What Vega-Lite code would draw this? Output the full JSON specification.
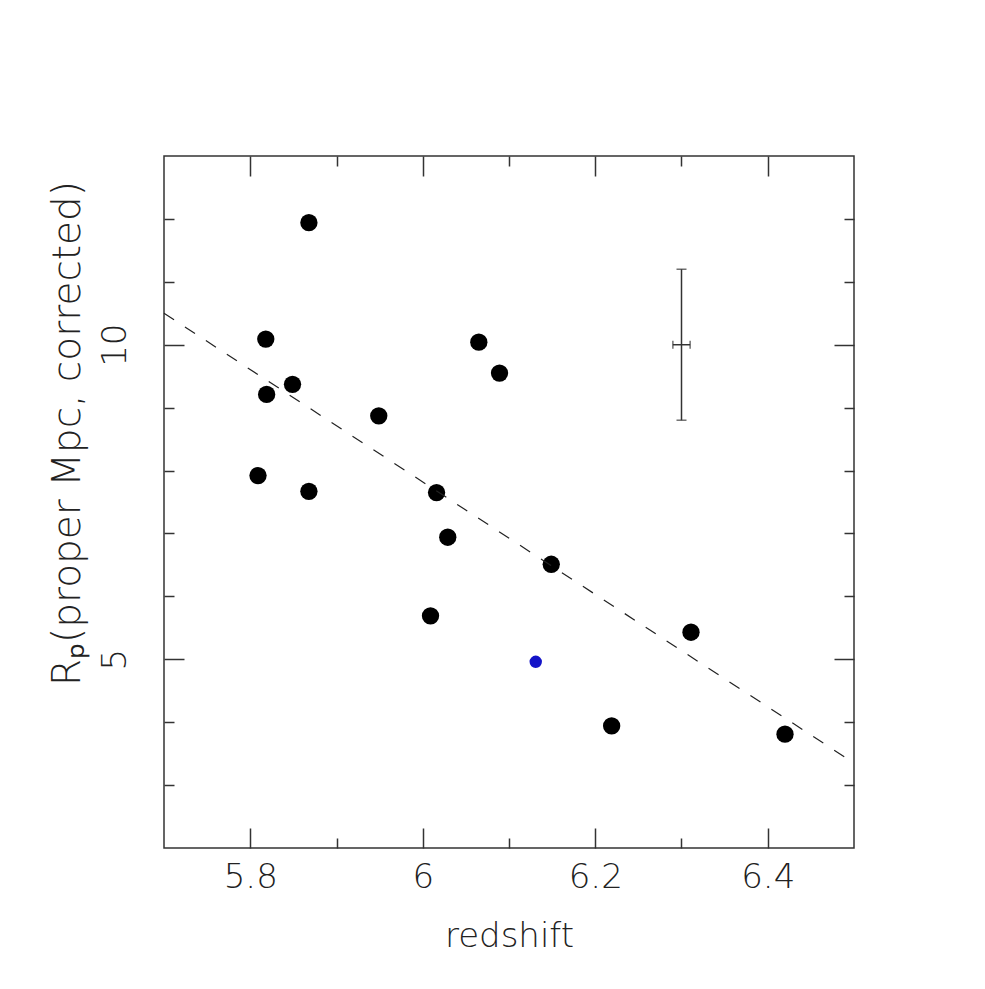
{
  "$schema": "https://vega.github.io/schema/vega-lite/v6.json",
  "width": 690,
  "height": 692,
  "autosize": "none",
  "padding": {"left": 164, "top": 156, "right": 131, "bottom": 141},
  "background": "white",
  "config": {
    "view": {"stroke": "#333333", "strokeWidth": 1.5},
    "axis": {
      "domain": false,
      "grid": false,
      "tickColor": "#333333",
      "tickWidth": 1.5,
      "labelFont": "DejaVu Sans",
      "labelFontSize": 34,
      "labelFontWeight": 200,
      "labelColor": "#222222",
      "titleFont": "DejaVu Sans",
      "titleFontSize": 34,
      "titleFontWeight": 200,
      "titleColor": "#222222"
    }
  },
  "datasets": {
    "galaxies": [
      {"z": 5.868, "R": 11.94},
      {"z": 5.818, "R": 10.09},
      {"z": 5.849, "R": 9.37},
      {"z": 5.819, "R": 9.21},
      {"z": 5.949, "R": 8.87},
      {"z": 5.809, "R": 7.92},
      {"z": 5.868, "R": 7.67},
      {"z": 6.016, "R": 7.65},
      {"z": 6.065, "R": 10.04},
      {"z": 6.089, "R": 9.55},
      {"z": 6.029, "R": 6.94},
      {"z": 6.149, "R": 6.51},
      {"z": 6.009, "R": 5.69},
      {"z": 6.311, "R": 5.43},
      {"z": 6.219, "R": 3.94},
      {"z": 6.42, "R": 3.81}
    ],
    "special": [{"z": 6.131, "R": 4.96}],
    "fit": [{"z": 5.7, "R": 10.5}, {"z": 6.5, "R": 3.35}],
    "errbar": [{"z": 6.3, "R": 10, "zlo": 6.29, "zhi": 6.31, "Rlo": 8.8, "Rhi": 11.2}],
    "vcaps": [{"z": 6.3, "R": 11.2}, {"z": 6.3, "R": 8.8}],
    "hcaps": [{"z": 6.29, "R": 10}, {"z": 6.31, "R": 10}]
  },
  "resolve": {"axis": {"x": "independent", "y": "independent"}},
  "layer": [
    {
      "data": {"name": "galaxies"},
      "mark": {"type": "circle", "size": 300, "color": "#000000", "opacity": 1},
      "encoding": {
        "x": {"field": "z", "type": "quantitative", "scale": {"domain": [5.7, 6.5], "nice": false, "zero": false},
          "axis": {"orient": "bottom", "values": [5.8, 6.0, 6.2, 6.4], "format": "~g", "tickSize": -20, "labelPadding": 32, "title": "redshift", "titlePadding": 25}},
        "y": {"field": "R", "type": "quantitative", "scale": {"domain": [2, 13], "nice": false, "zero": false},
          "axis": {"orient": "left", "values": [5, 10], "format": "d", "tickSize": -20, "labelAngle": -90, "labelAlign": "center", "labelBaseline": "bottom", "labelPadding": 52, "title": "Rₚ(proper Mpc, corrected)", "titleFontSize": 39, "titleY": 277, "titlePadding": 11}}
      }
    },
    {
      "data": {"name": "special"},
      "mark": {"type": "circle", "size": 154, "color": "#1414c8", "opacity": 1},
      "encoding": {
        "x": {"field": "z", "type": "quantitative", "scale": {"domain": [5.7, 6.5], "nice": false, "zero": false},
          "axis": {"orient": "bottom", "values": [5.9, 6.1, 6.3], "tickSize": -10, "labels": false, "title": null}},
        "y": {"field": "R", "type": "quantitative", "scale": {"domain": [2, 13], "nice": false, "zero": false},
          "axis": {"orient": "left", "values": [3, 4, 6, 7, 8, 9, 11, 12], "tickSize": -10, "labels": false, "title": null}}
      }
    },
    {
      "data": {"name": "fit"},
      "mark": {"type": "line", "color": "#222222", "strokeWidth": 1.2, "strokeDash": [12, 13]},
      "encoding": {
        "x": {"field": "z", "type": "quantitative", "scale": {"domain": [5.7, 6.5], "nice": false, "zero": false},
          "axis": {"orient": "top", "values": [5.8, 6.0, 6.2, 6.4], "tickSize": -20, "labels": false, "title": null}},
        "y": {"field": "R", "type": "quantitative", "scale": {"domain": [2, 13], "nice": false, "zero": false},
          "axis": {"orient": "right", "values": [5, 10], "tickSize": -20, "labels": false, "title": null}}
      }
    },
    {
      "data": {"name": "errbar"},
      "mark": {"type": "rule", "color": "#333333", "strokeWidth": 1.5},
      "encoding": {
        "x": {"field": "z", "type": "quantitative", "scale": {"domain": [5.7, 6.5], "nice": false, "zero": false},
          "axis": {"orient": "top", "values": [5.9, 6.1, 6.3], "tickSize": -10, "labels": false, "title": null}},
        "y": {"field": "Rlo", "type": "quantitative", "scale": {"domain": [2, 13], "nice": false, "zero": false},
          "axis": {"orient": "right", "values": [3, 4, 6, 7, 8, 9, 11, 12], "tickSize": -10, "labels": false, "title": null}},
        "y2": {"field": "Rhi"}
      }
    },
    {
      "data": {"name": "errbar"},
      "mark": {"type": "rule", "color": "#333333", "strokeWidth": 1.5},
      "encoding": {
        "x": {"field": "zlo", "type": "quantitative", "scale": {"domain": [5.7, 6.5], "nice": false, "zero": false}, "axis": null},
        "x2": {"field": "zhi"},
        "y": {"field": "R", "type": "quantitative", "scale": {"domain": [2, 13], "nice": false, "zero": false}, "axis": null}
      }
    },
    {
      "data": {"name": "vcaps"},
      "mark": {"type": "tick", "orient": "horizontal", "size": 10, "thickness": 1.5, "color": "#333333"},
      "encoding": {
        "x": {"field": "z", "type": "quantitative", "scale": {"domain": [5.7, 6.5], "nice": false, "zero": false}, "axis": null},
        "y": {"field": "R", "type": "quantitative", "scale": {"domain": [2, 13], "nice": false, "zero": false}, "axis": null}
      }
    },
    {
      "data": {"name": "hcaps"},
      "mark": {"type": "tick", "orient": "vertical", "size": 8, "thickness": 1.5, "color": "#333333"},
      "encoding": {
        "x": {"field": "z", "type": "quantitative", "scale": {"domain": [5.7, 6.5], "nice": false, "zero": false}, "axis": null},
        "y": {"field": "R", "type": "quantitative", "scale": {"domain": [2, 13], "nice": false, "zero": false}, "axis": null}
      }
    }
  ]
}
